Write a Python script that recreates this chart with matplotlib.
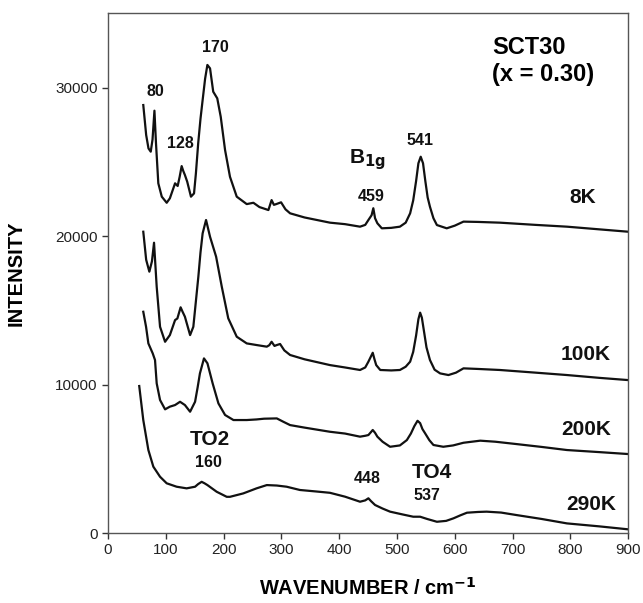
import matplotlib
matplotlib.use("Agg")
import matplotlib.pyplot as plt

plt.rcParams['font.family'] = ['Liberation Sans', 'DejaVu Sans']

# 8K spectrum
x_8k = [61, 66, 70, 73.9, 77, 80.3, 83, 87, 93, 101.5, 107, 112, 116, 120.5, 124, 127.4, 130, 133, 137, 143.5, 148.8, 152, 156, 160, 163.7, 168, 171.9, 176.5, 182, 189, 195, 202.5, 211, 222.7, 240, 251.5, 262, 277.5, 283, 287, 291, 299.4, 307, 315, 340, 384, 410, 436, 445, 450.5, 456, 459, 462, 466, 473.7, 490, 505, 515, 522.7, 528, 533, 537, 541, 545, 549, 553, 557, 563, 569, 586, 600, 615, 640, 678, 740, 794, 850, 900]
y_8k = [28820, 26800, 25900, 25680, 26500, 28440, 26240, 23550, 22650, 22240, 22540, 23100, 23550, 23370, 24000, 24710, 24400, 24110, 23660, 22650, 22870, 24200, 26240, 27900, 29160, 30600, 31520, 31290, 29720, 29270, 28030, 25790, 23990, 22650, 22150, 22240, 21950, 21750, 22420, 22100, 22150, 22270, 21800, 21530, 21250, 20900, 20800, 20630, 20750, 21080, 21400, 21870, 21200, 20860, 20520, 20550, 20630, 20900, 21530, 22400, 23700, 24900, 25340, 24900, 23700, 22600, 21970, 21200, 20740, 20520, 20700, 20970, 20950, 20900, 20750, 20630, 20450, 20290]

# 100K spectrum
x_100k = [61, 66, 71.5, 76, 79.6, 84.2, 90, 98.7, 107, 116, 120, 125.6, 129, 133, 142, 147.6, 152, 156.3, 160, 163.7, 169.6, 176.5, 187, 196.8, 208, 222.7, 240, 257, 274.7, 279, 283, 288, 292, 297.7, 305, 315, 340, 384, 410, 436, 445, 450.5, 455, 458, 461, 464, 471, 490, 505, 515, 522.7, 528, 533, 537, 540, 543, 547, 551, 557, 565, 574.6, 589, 602, 615, 640, 678, 740, 794, 850, 900]
y_100k = [20290, 18400, 17600, 18300, 19550, 16590, 13890, 12880, 13330, 14340, 14450, 15200, 14900, 14570, 13330, 13890, 15600, 17270, 18900, 20180, 21080, 19950, 18610, 16590, 14460, 13220, 12770, 12660, 12550, 12650, 12880, 12600, 12660, 12730, 12300, 11990, 11700, 11310, 11150, 10980, 11150, 11540, 11900, 12140, 11700, 11310, 10980, 10950, 10980, 11200, 11540, 12200, 13300, 14400, 14840, 14500, 13500, 12500, 11650, 11000, 10750, 10640, 10800, 11090, 11050, 10980, 10800, 10640, 10450, 10300]

# 200K spectrum
x_200k = [61, 65.8, 69.8, 77.3, 81.3, 84.2, 90, 98.7, 107, 116, 124.6, 133, 142, 150.6, 155, 159, 166, 172, 181, 191, 202.5, 217, 240, 257, 270, 292, 303, 315, 340, 384, 410, 436, 445, 450.5, 455, 458, 462, 466, 475, 488, 505, 517, 524, 530, 535.5, 540, 544, 548.7, 556, 563, 580, 597, 615, 644, 670, 707, 750, 794, 850, 900]
y_200k = [14900, 13890, 12770, 12100, 11650, 10080, 8960, 8330, 8510, 8620, 8840, 8620, 8170, 8840, 9800, 10750, 11760, 11430, 10080, 8730, 7950, 7610, 7610, 7650, 7700, 7720, 7500, 7270, 7100, 6820, 6700, 6490, 6550, 6600, 6800, 6940, 6750, 6490, 6150, 5810, 5900, 6260, 6700, 7200, 7560, 7400, 7000, 6710, 6250, 5930, 5810, 5900, 6080, 6220, 6150, 5990, 5800, 5590, 5450, 5320]

# 290K spectrum
x_290k = [54, 61, 69.8, 78.4, 90, 101.5, 118.7, 136, 150.6, 156, 162, 167, 172, 188, 205.4, 211, 234, 257, 274.7, 292, 309, 332, 360, 384, 410, 436, 445, 450.5, 455, 462, 475, 488, 510, 528, 540, 552, 569, 585, 597.6, 610, 621, 640, 655, 680, 707, 750, 794, 850, 900]
y_290k = [9900, 7610, 5590, 4470, 3790, 3350, 3120, 3010, 3120, 3300, 3450, 3350, 3230, 2780, 2440, 2440, 2670, 3010, 3230, 3200, 3120, 2900, 2800, 2710, 2450, 2110, 2200, 2340, 2150, 1890, 1650, 1440, 1250, 1100, 1100, 950, 760, 820, 990, 1200, 1370, 1420, 1440, 1380, 1210, 950, 650, 450, 250]

x_ticks = [0, 100, 200, 300, 400, 500, 600, 700, 800, 900]
y_ticks = [0, 10000, 20000, 30000]

fig = plt.figure(figsize=(6.43, 6.03), dpi=100)
ax = fig.add_axes([0.168, 0.116, 0.809, 0.862])

for xs, ys in [(x_8k, y_8k), (x_100k, y_100k), (x_200k, y_200k), (x_290k, y_290k)]:
    ax.plot(xs, ys, color='#111111', lw=1.6, solid_joinstyle='round')

ax.set_xlim(0, 900)
ax.set_ylim(0, 35000)
ax.set_xticks(x_ticks)
ax.set_yticks(y_ticks)
ax.tick_params(direction='out', length=4, width=1, colors='#333333', labelsize=11, labelcolor='#222222')
for s in ax.spines.values():
    s.set_color('#555555')
    s.set_linewidth(1)

ax.set_xlabel('WAVENUMBER / cm$^{\\mathbf{-1}}$', fontsize=14.5, fontweight='bold', labelpad=14)
ax.set_ylabel('INTENSITY', fontsize=14.5, fontweight='bold', labelpad=21)

small = dict(fontsize=11.5, fontweight='bold', ha='center', va='center', color='#111111')
big = dict(fontsize=15, fontweight='bold', ha='center', va='center', color='#111111')

ax.text(185, 32690, '170', **small)
ax.text(82.7, 29720, '80', **small)
ax.text(124.6, 26210, '128', **small)
ax.text(417, 24920, 'B$_{\\mathbf{1g}}$', fontsize=15, fontweight='bold', ha='left', va='baseline', color='#111111')
ax.text(455, 22630, '459', **small)
ax.text(539, 26400, '541', **small)
ax.text(664, 32690, 'SCT30', fontsize=17, fontweight='bold', ha='left', va='center')
ax.text(664, 30910, '(x = 0.30)', fontsize=17, fontweight='bold', ha='left', va='center')
ax.text(822, 22590, '8K', **big)
ax.text(825.6, 11990, '100K', **big)
ax.text(827, 7000, '200K', **big)
ax.text(836, 1950, '290K', **big)
ax.text(176, 6330, 'TO2', **big)
ax.text(173.6, 4780, '160', **small)
ax.text(449, 3640, '448', **small)
ax.text(560, 4070, 'TO4', **big)
ax.text(552, 2560, '537', **small)

fig.savefig('out.png', dpi=100)
